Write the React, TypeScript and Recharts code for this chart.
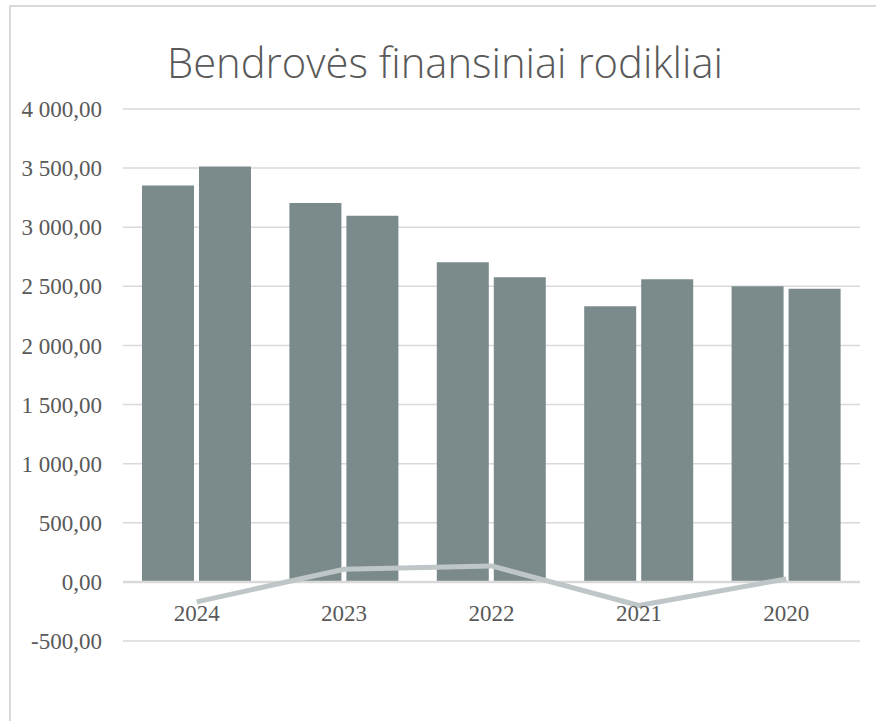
import { ComposedChart, Bar, Line, XAxis, YAxis, CartesianGrid, ReferenceLine } from "recharts";

const YEARS = ["2024", "2023", "2022", "2021", "2020"];
const SERIES_A = [3353, 3204, 2703, 2331, 2500];
const SERIES_B = [3514, 3097, 2576, 2559, 2480];
const SERIES_LINE = [-169, 107, 135, -200, 25];
const Y_TICKS = [-500, 0, 500, 1000, 1500, 2000, 2500, 3000, 3500, 4000];

const TEXT = "#595959";
const BAR = "#7b8b8c";
const GRID = "#d9d9d9";

const data = YEARS.map((year, i) => ({
  year,
  a: SERIES_A[i],
  b: SERIES_B[i],
  c: SERIES_LINE[i],
}));

// "4 000,00" style: space for thousands, comma for decimals
function fmt(v: number): string {
  const sign = v < 0 ? "-" : "";
  const int = Math.abs(Math.round(v)).toString().replace(/\B(?=(\d{3})+(?!\d))/g, " ");
  return `${sign}${int},00`;
}

function YearTick({ x, y, payload }: any) {
  return (
    <text x={x} y={y - 28} textAnchor="middle" fill={TEXT}
      fontFamily="'Liberation Serif', serif" fontSize={23}>
      {payload.value}
    </text>
  );
}

export default function App() {
  return (
    <div style={{ position: "absolute", left: 0, top: 0, width: 876, height: 721, background: "#fff", overflow: "hidden" }}>
      <div style={{
        position: "absolute", left: 9, top: 5, right: 0, bottom: 0,
        borderLeft: `2px solid ${GRID}`, borderTop: `2px solid ${GRID}`,
      }} />
      <svg width={876} height={100} style={{ position: "absolute", left: 0, top: 0 }}>
        <text x={167} y={78} fill={TEXT} fontFamily="'Open Sans', sans-serif" fontWeight={300}
          fontSize={42} textLength={556} lengthAdjust="spacingAndGlyphs">
          Bendrovės finansiniai rodikliai
        </text>
      </svg>
      <div style={{ position: "absolute", left: 0, top: 0 }}>
        <ComposedChart width={876} height={721} data={data}
          margin={{ top: 109, right: 16, left: 0, bottom: 50 }}
          barSize={52} barGap={5}>
          <CartesianGrid vertical={false} stroke={GRID} strokeWidth={1.5} />
          <XAxis dataKey="year" axisLine={false} tickLine={false} tick={<YearTick />} height={30} />
          <YAxis domain={[-500, 4000]} ticks={Y_TICKS} interval={0} width={123}
            axisLine={false} tickLine={false} tickMargin={15} tickFormatter={fmt}
            tick={{ fill: TEXT, fontSize: 23, fontFamily: "'Liberation Serif', serif" }} />
          <ReferenceLine y={0} stroke={GRID} strokeWidth={2.5} />
          <Bar dataKey="a" fill={BAR} isAnimationActive={false} />
          <Bar dataKey="b" fill={BAR} isAnimationActive={false} />
          <Line dataKey="c" stroke="#bfc6c8" strokeWidth={5} dot={false}
            strokeLinejoin="round" isAnimationActive={false} />
        </ComposedChart>
      </div>
    </div>
  );
}
